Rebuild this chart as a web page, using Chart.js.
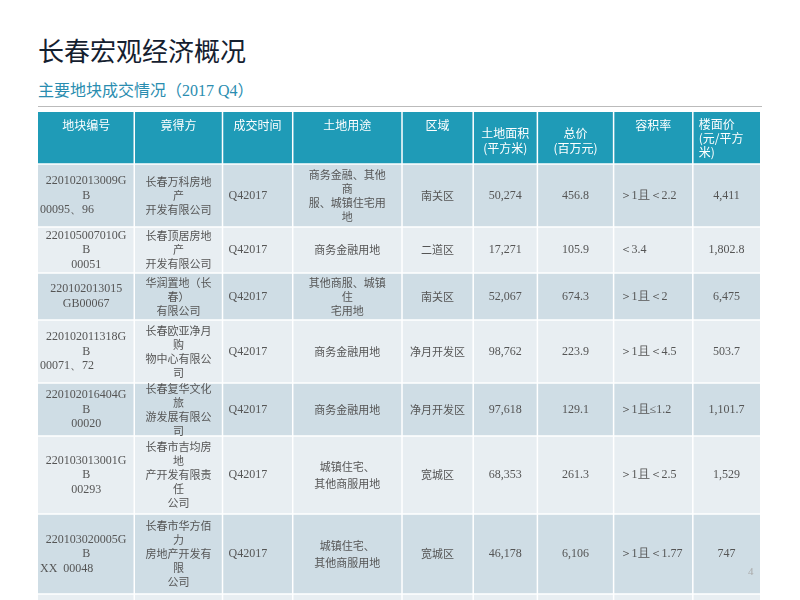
<!DOCTYPE html>
<html><head><meta charset="utf-8">
<script src="https://cdn.jsdelivr.net/npm/chart.js@4"></script>
<style>
body{margin:0;width:800px;height:600px;background:#fff;position:relative;overflow:hidden;font-family:"Noto Sans CJK SC";}
#t{position:absolute;left:38px;top:31px;font-size:26px;color:#14202f;}
#s{position:absolute;left:38px;top:77px;font-size:16px;color:#2a8db0;}
#s span{font-family:"Liberation Serif";}
#ln{position:absolute;left:38px;top:106px;width:724px;height:1px;background:#bbb;}
#pg{position:absolute;left:748px;top:565px;font-size:11px;color:#aaa;font-family:"Liberation Serif";}
#c{position:absolute;left:38px;top:112px;}
</style></head><body>
<div id="t">长春宏观经济概况</div>
<div id="s">主要地块成交情况（<span>2017 Q4</span>）</div>
<div id="ln"></div>
<div id="c"><canvas id="cv" width="722" height="488"></canvas></div>
<div id="pg">4</div>
<script>
const headers=[["地块编号"],["竟得方"],["成交时间"],["土地用途"],["区域"],["土地面积","(平方米)"],["总价","(百万元)"],["容积率"],["楼面价","(元/平方","米)"]];
const plotIds=[["220102013009G","B","00095、96"],["220105007010G","B","00051"],["220102013015","GB00067"],["220102011318G","B","00071、72"],["220102016404G","B","00020"],["220103013001G","B","00293"],["220103020005G","B","XX  00048"],[""]];
const winners=[["长春万科房地","产","开发有限公司"],["长春顶居房地","产","开发有限公司"],["华润置地（长","春）","有限公司"],["长春欧亚净月","购","物中心有限公","司"],["长春复华文化","旅","游发展有限公","司"],["长春市吉均房","地","产开发有限责","任","公司"],["长春市华方佰","力","房地产开发有","限","公司"],[""]];
const dealTime=["Q42017","Q42017","Q42017","Q42017","Q42017","Q42017","Q42017",""];
const landUse=[["商务金融、其他","商","服、城镇住宅用","地"],["商务金融用地"],["其他商服、城镇","住","宅用地"],["商务金融用地"],["商务金融用地"],["城镇住宅、","其他商服用地"],["城镇住宅、","其他商服用地"],[""]];
const district=["南关区","二道区","南关区","净月开发区","净月开发区","宽城区","宽城区",""];
const area=["50,274","17,271","52,067","98,762","97,618","68,353","46,178",""];
const totalPrice=["456.8","105.9","674.3","223.9","129.1","261.3","6,106",""];
const plotRatio=["＞1且＜2.2","＜3.4","＞1且＜2","＞1且＜4.5","＞1且≤1.2","＞1且＜2.5","＞1且＜1.77",""];
const floorPrice=["4,411","1,802.8","6,475","503.7","1,101.7","1,529","747",""];
// layout
const colEdges=[0,96,184,254,363,434,498,574,653,720];
const rowEdges=[0,52,115,161,208,271,324,402,482,540];
const colAlign=["center","center","left","center","center","center","center","left","center"];
const cols=[plotIds,winners,dealTime,landUse,district,area,totalPrice,plotRatio,floorPrice];
const cjk='11px "Noto Sans CJK SC"', ser='12px "Liberation Serif"';
const tablePlugin={id:'tbl',afterDraw(ch){
 const c=ch.ctx,xs=ch.scales.x,ys=ch.scales.y;
 const X=v=>xs.getPixelForValue(v),Y=v=>ys.getPixelForValue(v);
 c.save();
 const nr=rowEdges.length-1;
 for(let r=0;r<nr;r++){
  const y0=Y(rowEdges[r]),y1=Y(rowEdges[r+1]);
  c.fillStyle=r==0?'#1f9bb7':(r%2==1?'#cfdde5':'#e8eef2');
  c.fillRect(X(0),y0,X(720)-X(0),y1-y0);
 }
 c.strokeStyle='#ffffff';c.lineWidth=1.5;
 for(let r=1;r<nr;r++){c.beginPath();c.moveTo(X(0),Y(rowEdges[r]));c.lineTo(X(720),Y(rowEdges[r]));c.stroke();}
 for(let i=1;i<colEdges.length-1;i++){c.beginPath();c.moveTo(X(colEdges[i]),Y(0));c.lineTo(X(colEdges[i]),Y(540));c.stroke();}
 c.textBaseline='middle';
 headers.forEach((h,i)=>{
  c.fillStyle='#fff';c.font='12px "Noto Sans CJK SC"';
  const mid=(X(colEdges[i])+X(colEdges[i+1]))/2;
  let yStart=h.length==1?13:(h.length==2?21:12);
  if(i==8){c.textAlign='left';h.forEach((t,k)=>c.fillText(t,X(colEdges[i])+6,Y(yStart+k*14)));}
  else{c.textAlign='center';h.forEach((t,k)=>c.fillText(t,mid,Y(yStart+k*15)));}
 });
 for(let r=0;r<nr-1;r++){
  const yc=(Y(rowEdges[r+1])+Y(rowEdges[r+2]))/2;
  cols.forEach((col,i)=>{
   let v=col[r];const lines=Array.isArray(v)?v:[v];
   const lh=(i==0)?14.5:14;
   c.fillStyle='#555';
   lines.forEach((t,k)=>{
    const y=yc+(k-(lines.length-1)/2)*(i==3&&lines.length==2?17:lh);
    const isNum=/^[\d,\.QXGB ]/.test(t)&&i!=1;
    c.font=isNum||i==7?ser:cjk;
    let x;
    if(colAlign[i]=='left'){c.textAlign='left';x=X(colEdges[i])+6;}
    else{c.textAlign='center';x=(X(colEdges[i])+X(colEdges[i+1]))/2;}
    if(i==0&&/、|XX/.test(t)){c.textAlign='left';x=X(0)+2;}
    c.fillText(t,x,y);
   });
  });
 }
 c.restore();
}};
new Chart(document.getElementById('cv'),{type:'scatter',data:{datasets:[{data:[]}]},
 options:{responsive:false,animation:false,events:[],layout:{padding:0},
 plugins:{legend:{display:false},tooltip:{enabled:false}},
 scales:{x:{type:'linear',min:0,max:720,display:false},y:{type:'linear',min:0,max:488,reverse:true,display:false}}},
 plugins:[tablePlugin]});
</script></body></html>
